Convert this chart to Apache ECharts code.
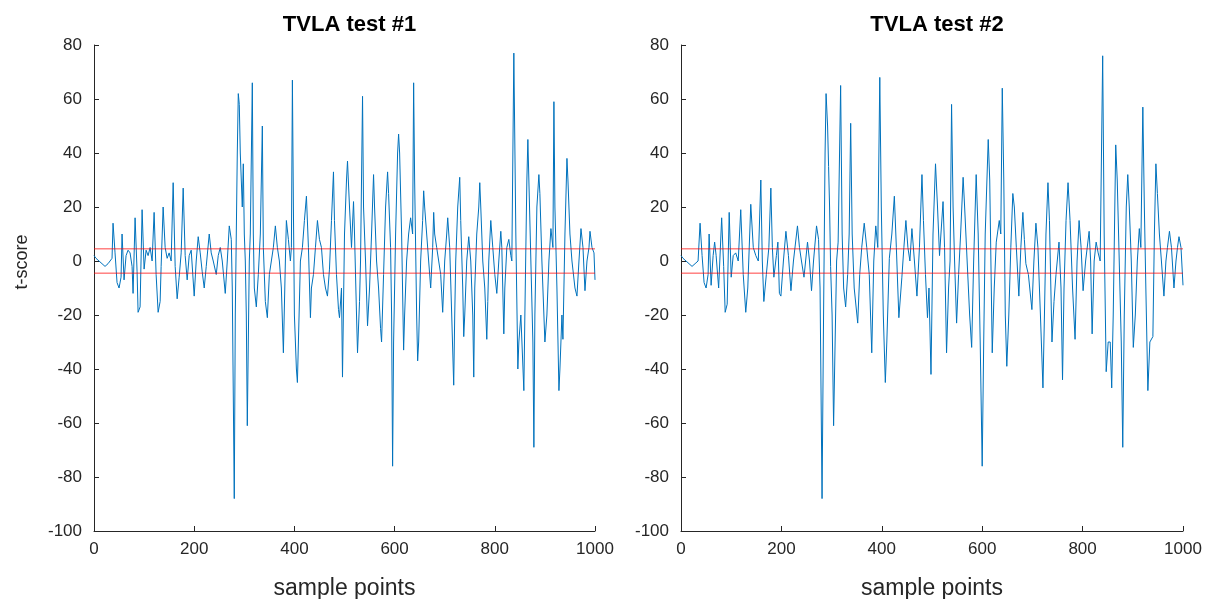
<!DOCTYPE html>
<html>
<head>
<meta charset="utf-8">
<script src="https://cdn.jsdelivr.net/npm/echarts@6/dist/echarts.min.js"></script>
<style>html,body{margin:0;padding:0;background:#fff}#c{width:1209px;height:599px}</style>
</head>
<body>
<div id="c"></div>
<script>
// ---- data ----
const titles = ['TVLA test #1', 'TVLA test #2'];
const xTicks = [0, 200, 400, 600, 800, 1000];
const yTicks = [-100, -80, -60, -40, -20, 0, 20, 40, 60, 80];
const threshold = 4.5;

const sampleX1 = [0,4,10,16,22,28,32,36,38,42,46,50,54,56,60,64,68,72,76,78,82,86,88,92,96,100,104,108,112,116,120,124,128,132,134,138,142,146,150,154,158,162,166,170,174,178,182,186,190,194,200,204,208,212,216,220,224,230,234,238,244,248,252,256,262,266,270,274,276,280,282,286,288,290,292,294,296,298,300,302,304,306,308,310,312,316,318,320,324,328,332,336,338,342,346,350,354,358,362,366,370,374,378,382,384,388,392,394,396,398,400,404,406,408,412,416,420,424,428,432,434,438,442,446,450,454,458,462,466,470,474,478,480,484,488,490,494,496,500,504,506,510,514,518,520,524,526,530,532,536,538,542,546,550,554,558,560,564,568,572,574,578,582,586,588,592,594,596,598,602,606,608,610,614,618,620,624,628,632,636,638,640,644,646,648,652,656,658,660,664,668,672,676,678,680,684,688,692,696,700,704,706,710,714,718,720,722,726,730,732,736,738,740,744,748,752,756,758,760,764,768,770,772,776,780,784,786,788,792,796,800,804,808,812,814,818,820,824,828,832,834,838,842,846,848,852,858,860,864,866,868,872,876,878,880,884,888,890,894,898,900,904,908,912,916,918,920,924,928,930,934,936,940,944,946,950,954,960,964,968,972,976,980,984,988,990,994,998,1000];
const tScore1 = [2,1,0,-1,-2,-1,0,1,14,3,-8,-10,-6,10,-7,2,4,3,-2,-12,16,-4,-19,-17,19,-3,4,2,5,0,18,-5,-19,-15,-2,20,5,1,3,0,29,-2,-14,-6,3,27,2,-7,2,4,-13,0,9,3,-4,-10,-2,10,3,0,-5,2,5,0,-12,0,13,8,-10,-88,-20,40,62,58,40,30,20,36,10,0,-20,-61,-30,0,10,66,10,-10,-17,-5,10,50,5,-15,-21,-5,0,5,13,5,0,-10,-34,0,15,8,0,5,67,20,-20,-40,-45,-30,0,5,15,24,5,-21,-10,-5,5,15,8,5,-5,-10,-13,-3,15,33,15,-5,-18,-21,-10,-43,10,30,37,20,5,22,10,-20,-34,-15,0,61,20,0,-24,-10,10,32,20,0,-10,-25,-30,-5,20,33,25,5,-20,-76,-30,10,40,47,40,10,-33,-20,0,10,16,10,66,30,-20,-37,-30,0,15,26,20,10,0,-10,5,18,10,5,0,-5,-19,0,10,16,5,-20,-46,-20,0,20,31,15,-10,-28,-20,0,9,0,-20,-43,-10,10,20,29,20,0,-10,-29,-15,0,15,5,-5,-12,0,11,5,-27,-10,5,8,2,0,77,10,-40,-30,-20,-48,-20,30,45,30,0,-30,-69,-20,20,32,25,0,-20,-30,-20,0,12,5,59,20,-10,-48,-40,-20,-29,10,38,30,10,0,-10,-13,0,12,5,-11,0,5,11,5,3,-7];

const sampleX2 = [0,4,10,16,22,28,34,38,42,46,50,54,56,60,64,67,70,75,81,85,88,92,96,100,104,109,114,119,124,129,133,139,144,149,154,159,162,165,170,175,179,182,185,190,193,196,199,204,209,214,219,224,232,236,240,245,252,256,260,264,270,274,277,281,284,287,289,292,294,296,298,301,304,307,310,313,318,321,324,328,332,335,338,341,345,352,356,360,365,370,375,380,384,388,392,396,399,403,407,410,415,420,425,429,434,440,444,448,452,456,460,465,470,475,480,483,487,491,494,498,502,507,511,515,522,525,529,533,536,539,542,545,549,553,557,562,565,570,575,579,583,588,592,596,600,603,606,612,615,620,624,628,634,637,640,643,646,649,653,657,661,664,668,673,677,681,684,687,692,699,703,707,711,716,721,724,727,731,734,739,743,747,753,757,760,763,767,771,775,780,785,789,793,797,801,806,813,816,819,823,827,831,835,840,843,847,851,855,858,861,866,869,873,877,880,883,887,890,893,897,901,905,909,913,916,920,923,926,930,934,940,943,946,949,953,957,962,966,969,973,977,982,986,989,992,996,1000];
const tScore2 = [2,1,0,-1,-2,-1,0,14,2,-8,-10,-5,10,-9,2,7,2,-10,16,-2,-19,-16,18,-6,2,3,0,19,-5,-19,-10,21,5,2,0,30,0,-15,-5,5,27,5,-6,2,7,-12,-13,0,11,2,-11,0,13,5,0,-6,7,0,-11,0,13,8,-10,-88,-20,40,62,50,35,20,-2,-20,-61,-30,0,7,65,10,-10,-17,-5,10,51,10,-10,-23,-5,5,14,5,-5,-34,0,13,5,68,20,-20,-45,-30,1,10,24,5,-21,-6,5,15,5,0,12,0,-13,5,32,15,-5,-21,-10,-42,10,36,20,2,22,5,-34,-10,0,58,20,0,-23,-5,10,31,20,0,-20,-32,0,32,10,-30,-76,-30,10,45,30,-34,-10,7,15,10,64,30,-20,-39,-20,5,25,20,5,-13,5,18,8,-1,-5,-18,0,14,5,-20,-47,-20,10,29,15,-30,-15,-5,7,-10,-44,-10,15,29,15,-10,-29,0,15,5,-11,0,11,0,-27,0,7,3,0,76,10,-41,-30,-30,-47,-20,43,30,0,-30,-69,-20,20,32,20,0,-32,-20,0,12,5,57,20,-10,-48,-30,-28,10,36,25,10,0,-13,0,5,11,5,-10,0,5,9,5,-9];

// ---- chart ----
const FONT = '"Liberation Sans", Arial, Helvetica, sans-serif';
const AX = '#262626';
const grids = [
  {left: 94, top: 45, width: 501, height: 486, outerBoundsMode: 'none', containLabel: false},
  {left: 681, top: 45, width: 502, height: 486, outerBoundsMode: 'none', containLabel: false}
];
function zip(xs, ys){ return xs.map((x,i)=>[x, ys[i]]); }
const plain = v => String(v);

const chart = echarts.init(document.getElementById('c'), null, {renderer: 'canvas'});
const xAxes = [0,1].map(i => ({
  type: 'value', gridIndex: i, min: xTicks[0], max: xTicks[xTicks.length-1], interval: 200,
  name: 'sample points', nameLocation: 'middle', nameGap: 46,
  nameTextStyle: {fontFamily: FONT, fontSize: 23, color: AX},
  axisLine: {show: true, onZero: false, lineStyle: {color: AX, width: 1}},
  axisTick: {show: true, inside: true, length: 5, lineStyle: {color: AX}},
  axisLabel: {fontFamily: FONT, fontSize: 17, color: AX, margin: 10, formatter: plain},
  splitLine: {show: false}
}));
const yAxes = [0,1].map(i => ({
  type: 'value', gridIndex: i, min: yTicks[0], max: yTicks[yTicks.length-1], interval: 20,
  axisLine: {show: true, onZero: false, lineStyle: {color: AX, width: 1}},
  axisTick: {show: true, inside: true, length: 5, lineStyle: {color: AX}},
  axisLabel: {fontFamily: FONT, fontSize: 17, color: AX, margin: 12, formatter: plain},
  splitLine: {show: false}
}));
const data = [zip(sampleX1, tScore1), zip(sampleX2, tScore2)];
const series = [];
[0,1].forEach(i => {
  series.push({
    type: 'line', xAxisIndex: i, yAxisIndex: i, data: data[i], showSymbol: false,
    lineStyle: {color: '#0072BD', width: 1}, silent: true, z: 2
  });
  [threshold, -threshold].forEach(t => series.push({
    type: 'line', xAxisIndex: i, yAxisIndex: i,
    data: [[xTicks[0], t], [xTicks[xTicks.length-1], t]], showSymbol: false,
    lineStyle: {color: '#ff0000', width: 1, opacity: 0.75}, silent: true, z: 3
  }));
});
chart.setOption({
  animation: false,
  backgroundColor: '#ffffff',
  title: [0,1].map(i => ({
    text: titles[i], left: grids[i].left + grids[i].width/2, top: 9, textAlign: 'center',
    textStyle: {fontFamily: FONT, fontSize: 22, fontWeight: 'bold', color: '#000'}
  })),
  graphic: [{
    type: 'text', x: 22, y: 262, rotation: Math.PI/2,
    style: {text: 't-score', fontFamily: FONT, fontSize: 18, fill: AX, align: 'center', verticalAlign: 'middle'}
  }],
  grid: grids,
  xAxis: xAxes,
  yAxis: yAxes,
  series: series
});
</script>
</body>
</html>
